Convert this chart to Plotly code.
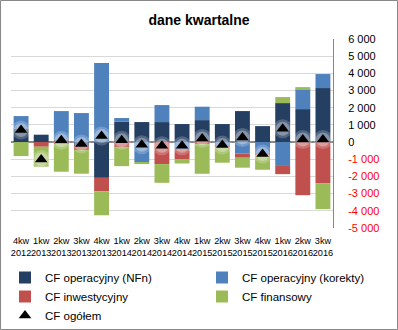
import plotly.graph_objects as go

categories = ["4kw<br>2012", "1kw<br>2013", "2kw<br>2013", "3kw<br>2013", "4kw<br>2013",
              "1kw<br>2014", "2kw<br>2014", "3kw<br>2014", "4kw<br>2014", "1kw<br>2015",
              "2kw<br>2015", "3kw<br>2015", "4kw<br>2015", "1kw<br>2016", "2kw<br>2016",
              "3kw<br>2016"]
cf_oper_nfn = [800, 430, 115, -230, -2080, 1185, 1165, 1165, 1050, 1280, 1050, 1805, 930, 2270, 1920, 3145]
cf_oper_korekty = [715, 0, 1690, 1690, 4600, 215, -1165, 990, -465, 780, -170, -660, -660, -1340, 1165, 815]
cf_inwest = [0, -270, -115, -230, -780, -290, 0, -1280, -545, -115, -140, -250, -115, -525, -3090, -2390]
cf_finans = [-815, -1165, -1610, -1380, -1400, -1110, -115, -1090, -235, -1730, -890, -580, -835, 350, 115, -1515]
cf_ogolem = [700, -1010, 100, -110, 350, 100, -150, -210, -210, 210, -175, 270, -700, 775, 155, 155]
tick_vals = [6000, 5000, 4000, 3000, 2000, 1000, 0, -1000, -2000, -3000, -4000, -5000]

def fmt(v):
    s = f"{abs(v):,}".replace(",", " ")
    if v < 0:
        return f'<span style="color:#ff0000">-{s}</span>'
    return s

tick_text = [fmt(v) for v in tick_vals]

x = list(range(len(categories)))
FONT = "Liberation Sans"

fig = go.Figure()
fig.add_bar(x=x, y=cf_oper_nfn, name="CF operacyjny (NFn)", marker_color="#243F62", marker_line_width=0,
            legend="legend", legendgroup="a")
fig.add_bar(x=x, y=cf_oper_korekty, name="CF operacyjny (korekty)", marker_color="#4F81BD", marker_line_width=0,
            legend="legend2", legendgroup="b")
fig.add_bar(x=x, y=cf_inwest, name="CF inwestycyjny", marker_color="#C0504D", marker_line_width=0,
            legend="legend", legendgroup="c")
fig.add_bar(x=x, y=cf_finans, name="CF finansowy", marker_color="#9BBB59", marker_line_width=0,
            legend="legend2", legendgroup="d")
# glow behind triangles
fig.add_scatter(x=x, y=cf_ogolem, mode="markers", showlegend=False, hoverinfo="skip",
                marker=dict(symbol="circle", size=19, color="rgba(255,255,255,0.2)", line_width=0))
fig.add_scatter(x=x, y=cf_ogolem, mode="markers", showlegend=False, hoverinfo="skip",
                marker=dict(symbol="circle", size=14, color="rgba(255,255,255,0.3)", line_width=0))
fig.add_scatter(x=x, y=cf_ogolem, mode="markers", name="CF ogółem", legend="legend", legendgroup="e",
                marker=dict(symbol="triangle-up", size=11, color="#000000", line_width=0))

W, H = 398, 330
ml, mr, mt, mb = 11, 65, 39, 102
pw, ph = W - ml - mr, H - mt - mb

leg_common = dict(orientation="v", xanchor="left", yref="container", y=1 - 263 / H, yanchor="top",
                  font=dict(family=FONT, size=11.5, color="#000000"), bgcolor="rgba(0,0,0,0)",
                  traceorder="normal", tracegroupgap=4, itemwidth=30)

fig.update_layout(
    width=W, height=H,
    margin=dict(l=ml, r=mr, t=mt, b=mb, autoexpand=False),
    paper_bgcolor="white", plot_bgcolor="white",
    barmode="relative", bargap=0.26,
    font=dict(family=FONT, color="#000000", size=11),
    title=dict(text="<b>dane kwartalne</b>", x=0.5, xanchor="center", y=1 - 20 / H, yanchor="middle",
               font=dict(family=FONT, size=14, color="#000000")),
    showlegend=True,
    legend=dict(x=(5 - ml) / pw, **leg_common),
    legend2=dict(x=(202 - ml) / pw, **leg_common),
    xaxis=dict(tickmode="array", tickvals=x, ticktext=categories, range=[-0.5, len(x) - 0.5],
               showgrid=False, zeroline=False, showline=False, ticks="", tickangle=0,
               tickfont=dict(family=FONT, size=9.2, color="#000000"),
               ticklabelstandoff=6),
    yaxis=dict(side="right", range=[-5000, 6000], tickmode="array", tickvals=tick_vals, ticktext=tick_text,
               showgrid=True, gridcolor="#D9D9D9", gridwidth=1,
               zeroline=True, zerolinecolor="#868686", zerolinewidth=1.5,
               showline=True, linecolor="#868686", linewidth=1, ticks="",
               ticklabelstandoff=12, tickfont=dict(family=FONT, size=11, color="#000000")),
    shapes=[dict(type="rect", xref="paper", yref="paper",
                 x0=(-ml + 0.5) / pw, x1=(W - ml - 0.5) / pw,
                 y0=-(mb - 0.5) / ph, y1=(ph + mt - 0.5) / ph,
                 line=dict(color="#888888", width=1), fillcolor="rgba(0,0,0,0)", layer="below")],
)

fig.write_html("out.html")
